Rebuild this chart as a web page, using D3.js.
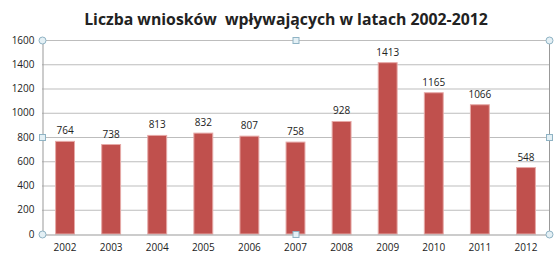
<!DOCTYPE html>
<html>
<head>
<meta charset="utf-8">
<script src="https://cdn.jsdelivr.net/npm/d3@7"></script>
<style>
  body { margin: 0; background: #fff; }
  text { font-family: "Open Sans", "Liberation Sans", sans-serif; fill: #222; }
</style>
</head>
<body>
<svg id="chart"></svg>
<script>
var years = ["2002", "2003", "2004", "2005", "2006", "2007", "2008", "2009", "2010", "2011", "2012"];
var counts = [764, 738, 813, 832, 807, 758, 928, 1413, 1165, 1066, 548];
var yTicks = [0, 200, 400, 600, 800, 1000, 1200, 1400, 1600];
var title = "Liczba wniosków  wpływających w latach 2002-2012";

var w = 560, h = 273;
var pLeft = 42, pRight = 549, pTop = 40, pBottom = 234; // plot area

var svg = d3.select("#chart").attr("width", w).attr("height", h);

var x = d3.scaleBand().domain(years).range([pLeft, pRight]).paddingInner(0.59).paddingOuter(0.295);
var y = d3.scaleLinear().domain([0, 1600]).range([pBottom, pTop]);

// title
svg.append("text")
  .attr("x", 286).attr("y", 25)
  .attr("text-anchor", "middle")
  .style("font-size", "15.8px").style("font-weight", "bold")
  .style("white-space", "pre")
  .text(title);

// gridlines
svg.append("g").selectAll("line").data(yTicks.slice(1)).enter().append("line")
  .attr("x1", pLeft).attr("x2", pRight)
  .attr("y1", function(d) { return y(d) + 0.5; })
  .attr("y2", function(d) { return y(d) + 0.5; })
  .style("stroke", "#bdbdbd");

// y axis
var yAxis = svg.append("g").attr("transform", "translate(" + (pLeft + 0.5) + ",0)")
  .call(d3.axisLeft(y).tickValues(yTicks).tickFormat(d3.format("d")).tickSize(0).tickPadding(8));
yAxis.select(".domain").style("stroke", "#999");
yAxis.selectAll("text").style("font-size", "10px");

// right border of plot area
svg.append("line").attr("x1", pRight + 0.5).attr("x2", pRight + 0.5).attr("y1", pTop).attr("y2", pBottom)
  .style("stroke", "#999");

// bars
svg.append("g").selectAll("rect").data(counts).enter().append("rect")
  .attr("x", function(d, i) { return x(years[i]); })
  .attr("y", function(d) { return y(d); })
  .attr("width", x.bandwidth())
  .attr("height", function(d) { return pBottom - y(d); })
  .style("fill", "#C0504D")
  .style("stroke", "#E6A9A7").style("stroke-width", 1);

// value labels
svg.append("g").selectAll("text").data(counts).enter().append("text")
  .attr("x", function(d, i) { return x(years[i]) + x.bandwidth() / 2; })
  .attr("y", function(d) { return y(d) - 7; })
  .attr("text-anchor", "middle")
  .style("font-size", "10px")
  .text(function(d) { return d; });

// x axis
var xAxis = svg.append("g").attr("transform", "translate(0," + (pBottom + 0.5) + ")")
  .call(d3.axisBottom(x).tickSize(0).tickPadding(9));
xAxis.select(".domain").style("stroke", "#999");
xAxis.selectAll("text").style("font-size", "10px");

// selection handles
var corners = [[pLeft, pTop], [pRight, pTop], [pLeft, pBottom], [pRight, pBottom]];
var mids = [[(pLeft + pRight) / 2, pTop], [pLeft, (pTop + pBottom) / 2], [pRight, (pTop + pBottom) / 2], [(pLeft + pRight) / 2, pBottom]];
svg.append("g").selectAll("circle").data(corners).enter().append("circle")
  .attr("cx", function(d) { return d[0] + 0.5; }).attr("cy", function(d) { return d[1] + 0.5; })
  .attr("r", 3.5)
  .style("fill", "#e4f0f5").style("stroke", "#8fb3c4");
svg.append("g").selectAll("rect").data(mids).enter().append("rect")
  .attr("x", function(d) { return d[0] - 2.5; }).attr("y", function(d) { return d[1] - 2.5; })
  .attr("width", 6).attr("height", 6)
  .style("fill", "#e4f0f5").style("stroke", "#8fb3c4");
</script>
</body>
</html>
